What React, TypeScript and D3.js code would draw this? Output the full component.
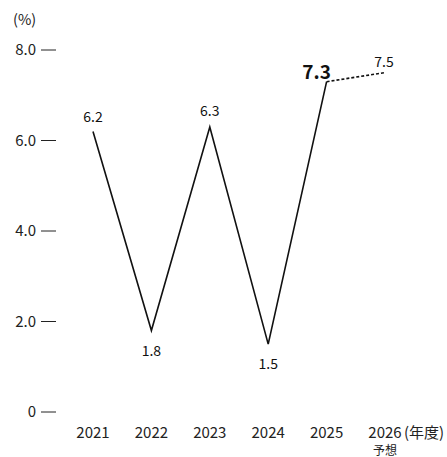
import React from "react";
import * as d3 from "d3";

const years = ["2021", "2022", "2023", "2024", "2025", "2026"];
const values = [6.2, 1.8, 6.3, 1.5, 7.3, 7.5];
const yTicks = [0, 2, 4, 6, 8];
const yTickLabels = ["0", "2.0", "4.0", "6.0", "8.0"];

export default function App() {
  const W = 447, H = 457;
  const x = d3.scalePoint<string>().domain(years).range([93, 385]);
  const y = d3.scaleLinear().domain([0, 8]).range([412, 50]);
  const font = "'Noto Sans CJK JP', 'Noto Sans', sans-serif";
  const line = d3.line<number>().x((_, i) => x(years[i])!).y((d) => y(d));
  const actual = values.slice(0, 5);
  const forecast = values.slice(4);
  const labelOffsets = [-9, 25, -11, 25, 0, -6];
  return (
    <svg width={W} height={H} style={{ position: "absolute", left: 0, top: 0 }} fontFamily={font}>
      <text x={13} y={25} fontSize={14.5} fill="#222">(%)</text>
      {yTicks.map((t, i) => (
        <g key={t}>
          <text x={36} y={y(t) + 5} fontSize={15} textAnchor="end" fill="#222">{yTickLabels[i]}</text>
          <line x1={41} x2={56} y1={y(t)} y2={y(t)} stroke="#222" strokeWidth={1} />
        </g>
      ))}
      <path d={line(actual)!} fill="none" stroke="#111" strokeWidth={1.6} />
      <path
        d={d3.line<number>().x((_, i) => x(years[i + 4])!).y((d) => y(d))(forecast)!}
        fill="none" stroke="#111" strokeWidth={1.6} strokeDasharray="3,2"
      />
      {values.map((v, i) => {
        if (i === 4) {
          return (
            <text key={i} x={x(years[i])! - 10} y={y(v) - 3} fontSize={19} fontWeight="bold" textAnchor="middle" fill="#111">{v.toFixed(1)}</text>
          );
        }
        return (
          <text key={i} x={x(years[i])! + (i === 5 ? -1 : 0)} y={y(v) + labelOffsets[i]} fontSize={14} textAnchor="middle" fill="#111">{v.toFixed(1)}</text>
        );
      })}
      {years.map((yr) => (
        <text key={yr} x={x(yr)} y={438} fontSize={15} textAnchor="middle" fill="#222">{yr}</text>
      ))}
      <text x={x("2026")! + 19} y={438} fontSize={15} fill="#222">(年度)</text>
      <text x={x("2026")!} y={455} fontSize={12} textAnchor="middle" fill="#222">予想</text>
    </svg>
  );
}
